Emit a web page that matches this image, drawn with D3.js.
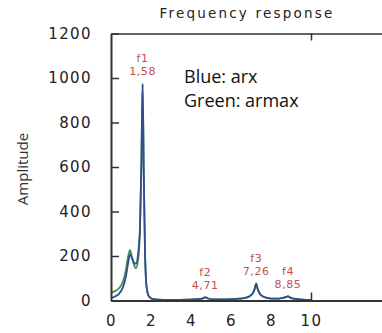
<!DOCTYPE html>
<html>
<head>
<meta charset="utf-8">
<script src="https://cdn.jsdelivr.net/npm/d3@7"></script>
<style>
  body { margin: 0; background: #fff; }
  svg { display: block; }
</style>
</head>
<body>
<script>
// frequency samples (Hz)
const freq = [0, 0.2, 0.4, 0.6, 0.75, 0.85, 0.95, 1.05, 1.15, 1.25, 1.35, 1.45, 1.52, 1.58, 1.64, 1.7, 1.78, 1.9, 2.1, 2.6, 3.2, 3.8, 4.3, 4.6, 4.71, 4.85, 5.2, 5.8, 6.4, 6.8, 7.05, 7.18, 7.26, 7.34, 7.5, 7.8, 8.2, 8.6, 8.78, 8.85, 8.95, 9.2, 9.6, 10];
// blue curve
const arx = [12, 18, 30, 60, 110, 165, 208, 190, 170, 165, 205, 330, 620, 975, 560, 220, 60, 18, 6, 3, 3, 4, 6, 10, 15, 9, 5, 5, 8, 14, 28, 52, 77, 50, 24, 12, 8, 12, 17, 19, 14, 7, 4, 3];
// green curve
const armax = [35, 42, 55, 85, 140, 195, 227, 195, 160, 145, 180, 320, 615, 970, 560, 220, 60, 18, 6, 3, 3, 4, 6, 10, 14, 9, 5, 5, 8, 14, 27, 50, 74, 48, 23, 12, 8, 12, 16, 18, 13, 7, 4, 3];

const yTicks = [0, 200, 400, 600, 800, 1000, 1200];
const xTicks = [0, 2, 4, 6, 8, 10];

const peakNames = ['f1', 'f2', 'f3', 'f4'];
const peakFreqs = [1.58, 4.71, 7.26, 8.85];
const peakAmps = [975, 15, 77, 19];

const width = 382, height = 333;

const svg = d3.select('body').append('svg')
  .attr('width', width)
  .attr('height', height);

const x = d3.scaleLinear().domain([0, 14]).range([111, 391]);
const y = d3.scaleLinear().domain([0, 1200]).range([300.5, 33.5]);

// title
svg.append('text')
  .attr('x', 247)
  .attr('y', 18)
  .attr('text-anchor', 'middle')
  .style('font', '13.5px "DejaVu Sans"')
  .style('letter-spacing', '2.2px')
  .attr('fill', '#222')
  .text('Frequency response');

// y label
svg.append('text')
  .attr('transform', 'translate(28,169) rotate(-90)')
  .attr('text-anchor', 'middle')
  .style('font', '15px "Open Sans"')
  .attr('fill', '#333')
  .text('Amplitude');

// curves
const line = d3.line()
  .x((d, i) => x(freq[i]))
  .y(d => y(d))
  .curve(d3.curveMonotoneX);

svg.append('path')
  .datum(armax)
  .attr('d', line)
  .attr('fill', 'none')
  .attr('stroke', '#3f8f5c')
  .attr('stroke-width', 1.8);

svg.append('path')
  .datum(arx)
  .attr('d', line)
  .attr('fill', 'none')
  .attr('stroke', '#2f4f8c')
  .attr('stroke-width', 1.8);

// axes / frame
const styleAxis = g => {
  g.select('.domain').attr('stroke', '#333').attr('stroke-width', 2);
  g.selectAll('.tick line').attr('stroke', '#333').attr('stroke-width', 1.5);
  g.selectAll('.tick text')
    .attr('fill', '#222')
    .style('font', '15px "DejaVu Sans"')
    .style('letter-spacing', '1.4px');
};

svg.append('g')
  .attr('transform', `translate(${x(0)},0)`)
  .call(d3.axisLeft(y).tickValues(yTicks).tickFormat(d => d).tickSize(-8).tickSizeOuter(0).tickPadding(19))
  .call(styleAxis);

svg.append('g')
  .attr('transform', `translate(0,${y(0)})`)
  .call(d3.axisBottom(x).tickValues(xTicks).tickFormat(d => d).tickSize(0).tickSizeOuter(0).tickPadding(15))
  .call(styleAxis);

// inner ticks at 10 on bottom and top edges
svg.append('g')
  .attr('transform', `translate(0,${y(0)})`)
  .call(d3.axisBottom(x).tickValues([10]).tickSize(-8).tickSizeOuter(0).tickFormat(''))
  .call(styleAxis);

svg.append('g')
  .attr('transform', `translate(0,${y(1200)})`)
  .call(d3.axisTop(x).tickValues([10]).tickSize(-7).tickSizeOuter(0).tickFormat(''))
  .call(g => g.select('.domain').attr('stroke', '#333').attr('stroke-width', 1.5))
  .call(g => g.selectAll('.tick line').attr('stroke', '#333').attr('stroke-width', 1.5));

// peak annotations
const ann = svg.append('g')
  .selectAll('g')
  .data(peakNames)
  .join('g')
  .attr('transform', (d, i) => `translate(${x(peakFreqs[i])},${y(peakAmps[i]) - 12.5})`)
  .style('font', '11px "DejaVu Sans"')
  .style('letter-spacing', '0.6px')
  .attr('fill', '#c24f4b')
  .attr('text-anchor', 'middle');

ann.append('text')
  .attr('y', -13)
  .attr('dy', '0.35em')
  .text(d => d);

ann.append('text')
  .attr('dy', '0.35em')
  .text((d, i) => String(peakFreqs[i]).replace('.', ','));

// legend note
const note = svg.append('g')
  .style('font', '18px "Open Sans"')
  .attr('fill', '#111');
note.append('text').attr('x', 184).attr('y', 82.5).text('Blue: arx');
note.append('text').attr('x', 184).attr('y', 106.5).text('Green: armax');
</script>
</body>
</html>
